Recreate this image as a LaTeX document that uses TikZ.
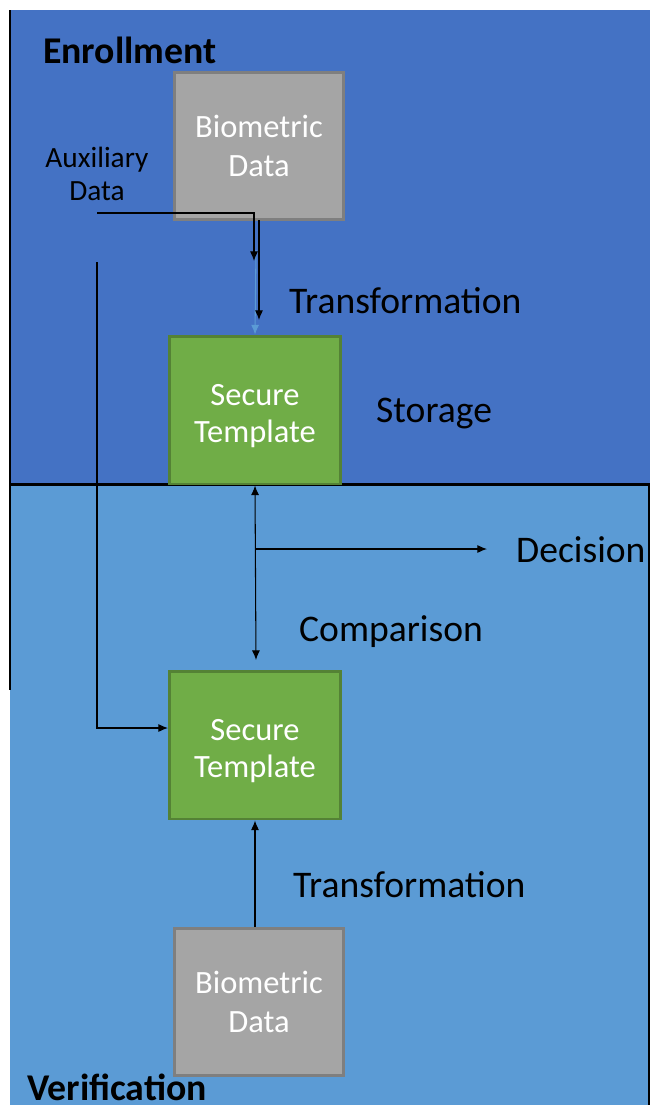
\documentclass[tikz,border=0pt]{standalone}
\usepackage{fontspec}
\setmainfont{Carlito}
\usepackage{tikz}
\usetikzlibrary{arrows,arrows.meta}
\usepackage{xcolor}
\definecolor{enrollblue}{HTML}{4472C4}
\definecolor{verifblue}{HTML}{5B9BD5}
\definecolor{biofill}{HTML}{A5A5A5}
\definecolor{bioline}{HTML}{7F7F7F}
\definecolor{tplfill}{HTML}{70AD47}
\definecolor{tplline}{HTML}{548235}
\tikzset{
  biobox/.style={draw=bioline,fill=biofill,line width=1.7pt,minimum width=3.4cm,minimum height=2.94cm,
    text=white,align=center,font=\fontsize{18.5}{22}\selectfont},
  tplbox/.style={draw=tplline,fill=tplfill,line width=1.7pt,minimum width=3.44cm,minimum height=2.96cm,
    text=white,align=center,font=\fontsize{18.5}{21}\selectfont},
  steplabel/.style={anchor=west,font=\fontsize{21.4}{25}\selectfont},
  phaselabel/.style={anchor=west,font=\fontsize{21.5}{25}\selectfont\bfseries},
  tip/.tip={Latex[length=5.5pt,width=4.6pt]},
  conn/.style={line width=0.6pt,-tip}
}

\begin{document}
\begin{tikzpicture}[x=0.02cm,y=-0.02cm]
      \useasboundingbox (0,0) rectangle (650,1107);
      % the two phases
      \fill[enrollblue] (10,10) rectangle (650,484);
      \fill[verifblue] (10,484) rectangle (648,1105);
      \draw[line width=1.7pt] (10,484) -- (650,484);
      \draw[line width=1.2pt] (10,10) -- (10,690);
      \draw[line width=1.2pt] (649,484) -- (649,1105);
      \node[phaselabel] (enroll) at (37,50) {Enrollment};
      \node[phaselabel] (verif) at (21,1087) {Verification};

      % boxes
      \node[biobox] (bio1) at (259,146) {Biometric\\Data};
      \node[tplbox] (tpl1) at (255,410) {\\[-2pt]Secure\\Template};
      \node[tplbox] (tpl2) at (255,745) {\\[-2pt]Secure\\Template};
      \node[biobox] (bio2) at (259,1002) {Biometric\\Data};
      \node[align=center,font=\fontsize{16.7}{18.7}\selectfont] (aux) at (97,174) {Auxiliary\\Data};

      % step labels
      \node[steplabel] (trans1) at (283,301) {Transformation};
      \node[steplabel] (store) at (370,414) {Storage};
      \node[steplabel] (decide) at (510,550) {Decision};
      \node[steplabel] (compare) at (293,632) {Comparison};
      \node[steplabel] (trans2) at (287,885) {Transformation};

      % enrollment arrows
      \coordinate (blue0) at (256,250);
      \coordinate (auxa) at (97,213);
      \coordinate (auxb) at (254,213);
      \coordinate (auxc) at (254,261);
      \coordinate (bioout) at (259,220);
      \coordinate (bioin) at (259,320);
      \draw[conn,verifblue] (blue0) -- (tpl1.north);
      \draw[conn] (auxa) -- (auxb) -- (auxc);
      \draw[conn] (bioout) -- (bioin);

      % auxiliary data to verification
      \coordinate (auxd) at (97,262);
      \coordinate (auxe) at (97,728);
      \coordinate (auxin) at (168,728);
      \draw[conn] (auxd) -- (auxe) -- (auxin);

      % comparison and decision
      \coordinate (cmpend) at (256,660);
      \coordinate (split) at (256,549);
      \coordinate (decend) at (487,549);
      \draw[line width=0.6pt,tip-tip] (tpl1.south) -- (cmpend);
      \draw[conn] (split) -- (decend);

      % verification transformation
      \draw[conn] (tpl2.south |- bio2.north) -- (tpl2.south);
\end{tikzpicture}
\end{document}
